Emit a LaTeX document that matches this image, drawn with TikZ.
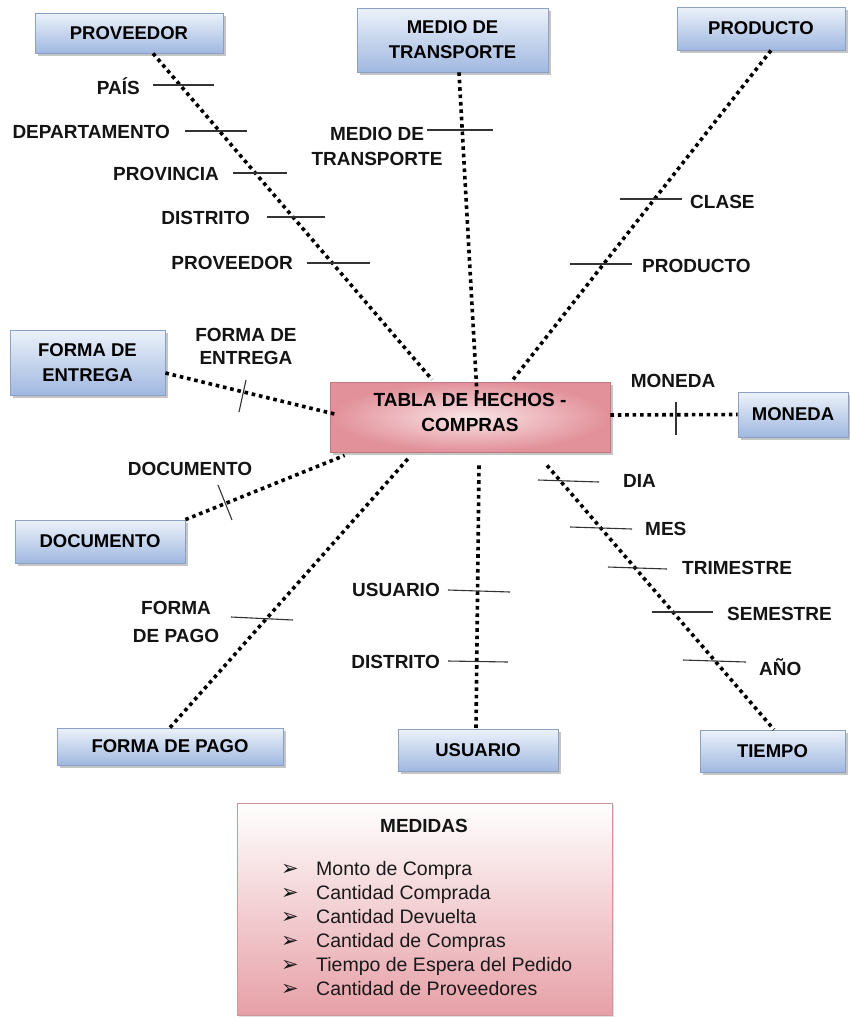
\documentclass[tikz,border=0pt]{standalone}
\usepackage{fontspec}
\setmainfont{Liberation Sans}
\newfontfamily\bulletfont{DejaVu Sans}
\usetikzlibrary{shadows}

\definecolor{dimtop}{RGB}{236,242,250}
\definecolor{dimbot}{RGB}{160,184,224}
\definecolor{dimedge}{RGB}{140,160,196}
\definecolor{factin}{RGB}{249,228,230}
\definecolor{factout}{RGB}{226,144,153}
\definecolor{factedge}{RGB}{190,120,128}
\definecolor{medbot}{RGB}{230,160,167}
\definecolor{mededge}{RGB}{205,150,156}

\newcommand\dimfont{\fontsize{18.5}{25}\selectfont\bfseries}
\newcommand\lblfont{\fontsize{19}{25}\selectfont\bfseries}
\newcommand\measfont{\fontsize{19.5}{24}\selectfont}

\begin{document}
\begin{tikzpicture}[x=1pt,y=-1pt,
  dimbox/.style={draw=dimedge, line width=0.8pt, top color=dimtop, bottom color=dimbot,
    font=\dimfont, align=center, inner sep=0pt,
    drop shadow={shadow xshift=3pt, shadow yshift=-3pt, fill=black!50, opacity=0.45}},
  factbox/.style={draw=factedge, line width=0.8pt, shading=radial, inner color=factin, outer color=factout,
    font=\dimfont, align=center, inner sep=0pt,
    drop shadow={shadow xshift=3pt, shadow yshift=-3pt, fill=black!50, opacity=0.45}},
  measbox/.style={draw=mededge, line width=0.8pt, top color=white, bottom color=medbot, inner sep=0pt,
    drop shadow={shadow xshift=2pt, shadow yshift=-2pt, fill=black!40, opacity=0.3}},
  lbl/.style={font=\lblfont, inner sep=0pt, text=black!92},
  link/.style={line width=3.6pt, dash pattern=on 3.6pt off 3.8pt, black},
  tick/.style={line width=1.1pt, draw=black!80}]

% page
\fill[white] (0,0) rectangle (850,1018);
\useasboundingbox (0,0) rectangle (850,1018);

% dimension boxes
\node[dimbox, minimum width=188pt, minimum height=40pt] (prov) at (129,33) {PROVEEDOR};
\node[dimbox, minimum width=191pt, minimum height=64pt] (medio) at (452.5,40) {MEDIO DE\\TRANSPORTE};
\node[dimbox, minimum width=168pt, minimum height=43pt] (prod) at (761,28.5) {PRODUCTO};
\node[dimbox, minimum width=155pt, minimum height=65pt] (entrega) at (87.5,362.5) {FORMA DE\\ENTREGA};
\node[dimbox, minimum width=110pt, minimum height=45pt] (moneda) at (793,414.5) {MONEDA};
\node[dimbox, minimum width=170pt, minimum height=43pt] (doc) at (100,541.5) {DOCUMENTO};
\node[dimbox, minimum width=226pt, minimum height=37pt] (pago) at (170,746.5) {FORMA DE PAGO};
\node[dimbox, minimum width=160pt, minimum height=42pt] (usu) at (478,750) {USUARIO};
\node[dimbox, minimum width=145pt, minimum height=42pt] (tiempo) at (772.5,751) {TIEMPO};

% fact table
\node[factbox, minimum width=280pt, minimum height=70pt, text depth=9pt, font=\lblfont] (fact) at (470,417) {TABLA DE HECHOS -\\COMPRAS};

% dotted links between the fact table and each dimension
\draw[link] ([xshift=24pt]prov.south) -- ([xshift=-38pt,yshift=2pt]fact.north);
\draw[link] ([xshift=6.5pt]medio.south) -- ([xshift=7pt,yshift=-13pt]fact.north);
\draw[link] ([xshift=10pt]prod.south) -- ([xshift=43pt,yshift=2pt]fact.north);
\draw[link] ([yshift=-10.5pt]entrega.east) -- ([xshift=5pt,yshift=3pt]fact.west);
\draw[link] (doc.north east) -- ([xshift=15pt,yshift=-3pt]fact.south west);
\draw[link] (pago.north) -- ([xshift=-60pt,yshift=-4pt]fact.south);
\draw[link] ([xshift=9pt,yshift=-13pt]fact.south) -- ([xshift=-2pt]usu.north);
\draw[link] ([xshift=77pt,yshift=-13pt]fact.south) -- ([xshift=1.5pt]tiempo.north);
\draw[link] ([yshift=2pt]fact.east) -- (moneda.west);

% proveedor hierarchy
\node[lbl, anchor=base east] (lpais) at (140,94) {PAÍS};
\node[lbl, anchor=base east] (ldep) at (170,138) {DEPARTAMENTO};
\node[lbl, anchor=base east] (lprovin) at (219,180) {PROVINCIA};
\node[lbl, anchor=base east] (ldist) at (250,224) {DISTRITO};
\node[lbl, anchor=base east] (lprov) at (293,269.5) {PROVEEDOR};
\draw[tick] (153,85) -- (214,85);
\draw[tick] (185,131) -- (247,131);
\draw[tick] (233,173) -- (287,173);
\draw[tick] (267,217) -- (325,217);
\draw[tick] (307,263) -- (370,263);

% medio de transporte
\node[lbl, align=center] (lmedio) at (377,146) {MEDIO DE\\TRANSPORTE};
\draw[tick] (427,130) -- (493,130);

% producto hierarchy
\node[lbl, anchor=base west] (lclase) at (690,208) {CLASE};
\node[lbl, anchor=base west] (lprod) at (642,272) {PRODUCTO};
\draw[tick] (620,199) -- (682,199);
\draw[tick] (570,264) -- (632,264);

% forma de entrega
\node[lbl, align=center, font=\fontsize{19}{23}\selectfont\bfseries] (lentrega) at (246,346.5) {FORMA DE\\ENTREGA};
\draw[tick] (246,380) -- (239,412);

% documento
\node[lbl, anchor=base] (ldoc) at (190,475) {DOCUMENTO};
\draw[tick] (218,485) -- (232,520);

% moneda
\node[lbl, anchor=base] (lmoneda) at (673,387) {MONEDA};
\draw[tick] (676,402) -- (676,435);

% tiempo hierarchy
\node[lbl, anchor=base west] (ldia) at (623,487) {DIA};
\node[lbl, anchor=base west] (lmes) at (645,535) {MES};
\node[lbl, anchor=base west] (ltrim) at (682,574) {TRIMESTRE};
\node[lbl, anchor=base west] (lsem) at (727,620) {SEMESTRE};
\node[lbl, anchor=base west] (lanio) at (759,675) {AÑO};
\draw[tick] (538,480) -- (599,482);
\draw[tick] (570,527) -- (632,529);
\draw[tick] (608,567) -- (667,569);
\draw[tick] (652,612) -- (713,612);
\draw[tick] (683,660) -- (746,662);

% usuario hierarchy
\node[lbl, anchor=base east] (lusu) at (440,596) {USUARIO};
\node[lbl, anchor=base east] (ldistu) at (440,668) {DISTRITO};
\draw[tick] (448,590) -- (510,592);
\draw[tick] (448,661) -- (508,662);

% forma de pago
\node[lbl, align=center, font=\fontsize{19}{28}\selectfont\bfseries] (lpago) at (176,621.5) {FORMA\\DE PAGO};
\draw[tick] (231,617) -- (293,620);

% measures
\node[measbox, minimum width=375pt, minimum height=212pt] (med) at (424.5,909) {};
\node[lbl, anchor=base] (medtitle) at (424,832) {MEDIDAS};
\foreach \t [count=\i] in {Monto de Compra, Cantidad Comprada, Cantidad Devuelta,
    Cantidad de Compras, Tiempo de Espera del Pedido, Cantidad de Proveedores}
  \node[anchor=base west, inner sep=0pt, font=\measfont, text=black!90] (m\i) at (281,{875+24*(\i-1)})
    {\makebox[35pt][l]{\bulletfont\fontsize{21}{21}\selectfont ➢}\t};

\end{tikzpicture}
\end{document}
